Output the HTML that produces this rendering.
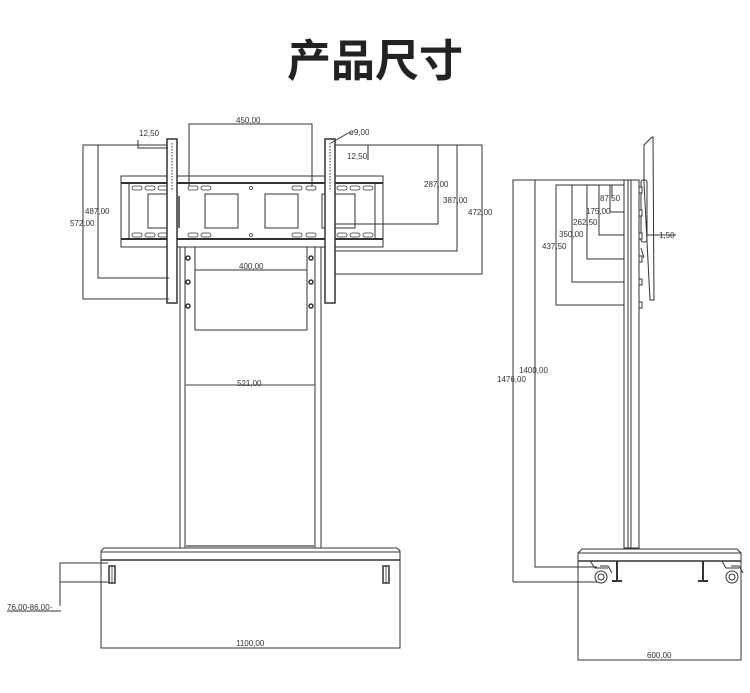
<!DOCTYPE html>
<html><head><meta charset="utf-8"><style>
html,body{margin:0;padding:0;background:#fff;width:750px;height:693px;overflow:hidden}
svg{display:block}
text{font-family:"Liberation Sans",sans-serif;font-size:8px;fill:#333}
.t{font-family:"Liberation Sans","Noto Sans CJK SC",sans-serif;font-size:44px;font-weight:bold;fill:#222}
</style></head><body>
<svg width="750" height="693" viewBox="0 0 750 693" xmlns="http://www.w3.org/2000/svg">
<text class="t" x="375" y="76" text-anchor="middle">产品尺寸</text>
<g fill="none" stroke="#333" stroke-width="1">
<polyline points="189,186 189,124 312,124 312,186"/>
<rect x="121" y="176" width="262" height="71"/>
<line x1="121" y1="183" x2="383" y2="183" stroke-width="2"/>
<line x1="121" y1="239" x2="383" y2="239" stroke-width="2"/>
<line x1="129" y1="183" x2="129" y2="239"/>
<line x1="375" y1="183" x2="375" y2="239"/>
<rect x="148" y="194" width="22" height="34"/>
<rect x="205" y="194" width="33" height="34"/>
<rect x="265" y="194" width="33" height="34"/>
<rect x="322" y="194" width="33" height="34"/>
<g stroke-width="0.8">
<rect x="132" y="186" width="10" height="4" rx="2"/><rect x="145" y="186" width="10" height="4" rx="2"/><rect x="158" y="186" width="10" height="4" rx="2"/>
<rect x="132" y="233" width="10" height="4" rx="2"/><rect x="145" y="233" width="10" height="4" rx="2"/><rect x="158" y="233" width="10" height="4" rx="2"/>
<rect x="188" y="186" width="10" height="4" rx="2"/><rect x="201" y="186" width="10" height="4" rx="2"/>
<rect x="188" y="233" width="10" height="4" rx="2"/><rect x="201" y="233" width="10" height="4" rx="2"/>
<rect x="292" y="186" width="10" height="4" rx="2"/><rect x="306" y="186" width="10" height="4" rx="2"/>
<rect x="292" y="233" width="10" height="4" rx="2"/><rect x="306" y="233" width="10" height="4" rx="2"/>
<rect x="337" y="186" width="10" height="4" rx="2"/><rect x="350" y="186" width="10" height="4" rx="2"/><rect x="363" y="186" width="10" height="4" rx="2"/>
<rect x="337" y="233" width="10" height="4" rx="2"/><rect x="350" y="233" width="10" height="4" rx="2"/><rect x="363" y="233" width="10" height="4" rx="2"/>
<circle cx="251" cy="188" r="1.5"/><circle cx="251" cy="235" r="1.5"/>
</g>
<rect x="167" y="139" width="10" height="164" fill="#fff" stroke-width="1.5"/>
<rect x="325" y="139" width="10" height="164" fill="#fff" stroke-width="1.5"/>
<line x1="172" y1="143" x2="172" y2="190" stroke-dasharray="1.5,1.5"/>
<line x1="330" y1="143" x2="330" y2="190" stroke-dasharray="1.5,1.5"/>
<line x1="179" y1="196" x2="179" y2="228" stroke-width="1.5"/>
<rect x="180" y="247" width="5" height="301"/>
<rect x="315" y="247" width="6" height="301"/>
<rect x="195" y="247" width="112" height="83"/>
<line x1="195" y1="270" x2="307" y2="270"/>
<line x1="185" y1="385" x2="315" y2="385" stroke="#666" stroke-width="1.3"/>
<g stroke-width="1.5"><circle cx="188" cy="258" r="2"/><circle cx="188" cy="282" r="2"/><circle cx="188" cy="306" r="2"/>
<circle cx="311" cy="258" r="2"/><circle cx="311" cy="282" r="2"/><circle cx="311" cy="306" r="2"/></g>
<line x1="186" y1="546" x2="315" y2="546" stroke="#888" stroke-width="2"/>
<polyline points="169,299 83,299 83,145 167,145"/>
<polyline points="169,278 98,278 98,145"/>
<polyline points="168,148 138,148 138,140"/>
<polyline points="335,145 482,145 482,274 335,274"/>
<polyline points="457,145 457,251 335,251"/>
<polyline points="438,145 438,224 335,224"/>
<polyline points="335,145 368,145 368,160"/>
<line x1="331" y1="143" x2="350" y2="132"/>
<polyline points="101,560 101,551 104,548 397,548 400,551 400,560"/>
<line x1="101" y1="552" x2="400" y2="552"/>
<line x1="101" y1="560" x2="400" y2="560" stroke-width="1.5"/>
<polyline points="101,560 101,648 400,648 400,560"/>
<g stroke-width="1.5"><rect x="109" y="566" width="6" height="17"/><rect x="383" y="566" width="6" height="17"/></g>
<line x1="112" y1="566" x2="112" y2="583" stroke-width="0.8"/><line x1="386" y1="566" x2="386" y2="583" stroke-width="0.8"/>
<polyline points="108,563 60,563 60,606"/>
<line x1="60" y1="582" x2="108" y2="582"/>
<line x1="7" y1="611" x2="61" y2="611"/>
<rect x="624" y="180" width="15" height="368"/>
<line x1="628" y1="180" x2="628" y2="548"/><line x1="631" y1="180" x2="631" y2="548"/>
<path d="M644,183 L644,145 L652,137 L653,137 L654,300 L650,300 Z"/>
<rect x="641" y="180" width="6" height="62" rx="2"/>
<line x1="641" y1="248" x2="644" y2="258" />
<polyline points="513,582 513,180 624,180"/>
<polyline points="535,560 535,180"/>
<polyline points="624,185 556,185 556,305 624,305"/>
<polyline points="572,185 572,282 624,282"/>
<polyline points="587,185 587,259 624,259"/>
<polyline points="599,185 599,235 624,235"/>
<polyline points="610,185 610,212 624,212"/>
<polyline points="612,185 612,198"/>
<line x1="647" y1="235" x2="676" y2="235"/>
<g fill="#fff"><rect x="639" y="187" width="3" height="6"/><rect x="639" y="210" width="3" height="6"/><rect x="639" y="233" width="3" height="6"/><rect x="639" y="256" width="3" height="6"/><rect x="639" y="279" width="3" height="6"/><rect x="639" y="302" width="3" height="6"/></g>
<polyline points="578,561 578,553 582,549 737,549 741,553 741,561"/>
<line x1="578" y1="553" x2="741" y2="553"/>
<line x1="578" y1="561" x2="741" y2="561" stroke-width="1.5"/>
<polyline points="578,561 578,660 741,660 741,561"/>
<circle cx="601" cy="577" r="6"/><circle cx="601" cy="577" r="3"/>
<circle cx="732" cy="577" r="6"/><circle cx="732" cy="577" r="3"/>
<path d="M590,561 L595,568 L608,568 M600,566 L608,566 L612,573"/>
<path d="M722,561 L726,568 L739,568 M731,566 L739,566 L743,573"/>
<line x1="617" y1="561" x2="617" y2="580" stroke-width="2"/><line x1="612" y1="581" x2="622" y2="581" stroke-width="2"/>
<line x1="703" y1="561" x2="703" y2="580" stroke-width="2"/><line x1="698" y1="581" x2="708" y2="581" stroke-width="2"/>
<polyline points="597,567 535,567 535,560"/>
<polyline points="597,582 513,582"/>
</g>
<text x="236" y="123">450,00</text>
<text x="139" y="136">12,50</text>
<text x="349" y="135">ø9,00</text>
<text x="347" y="159">12,50</text>
<text x="85" y="214">487,00</text>
<text x="70" y="226">572,00</text>
<text x="424" y="187">287,00</text>
<text x="443" y="203">387,00</text>
<text x="468" y="215">472,00</text>
<text x="239" y="269">400,00</text>
<text x="237" y="386">521,00</text>
<text x="7" y="610">76,00-86,00-</text>
<text x="236" y="646">1100,00</text>
<text x="600" y="201">87,50</text>
<text x="586" y="214">175,00</text>
<text x="573" y="225">262,50</text>
<text x="559" y="237">350,00</text>
<text x="542" y="249">437,50</text>
<text x="659" y="238">1,50</text>
<text x="519" y="373">1400,00</text>
<text x="497" y="382">1476,00</text>
<text x="647" y="658">600,00</text>
</svg>
</body></html>
